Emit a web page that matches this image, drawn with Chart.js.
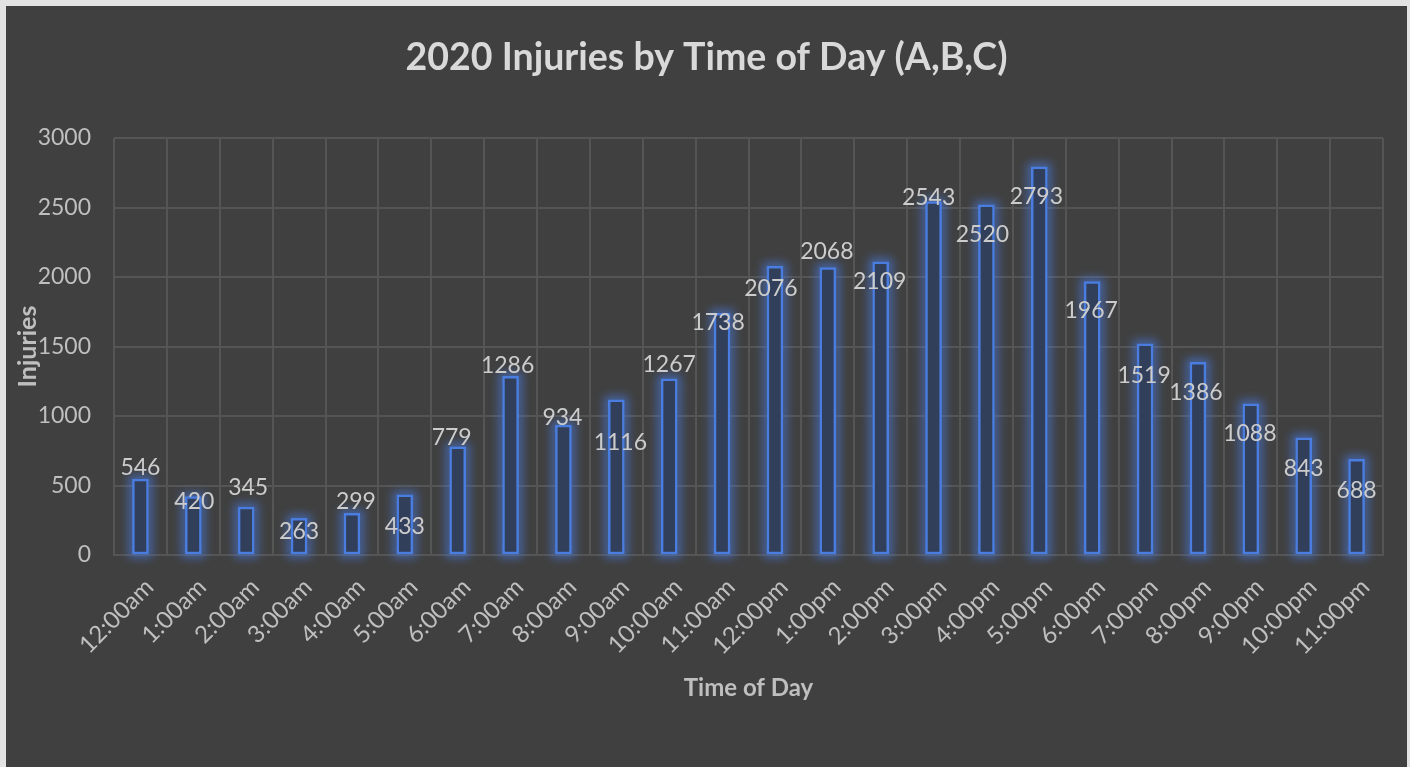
<!DOCTYPE html>
<html>
<head>
<meta charset="utf-8">
<script src="https://cdn.jsdelivr.net/npm/chart.js@4.4.1/dist/chart.umd.min.js"></script>
<style>
  html, body { margin: 0; padding: 0; background: #e3e3e3; width: 1410px; height: 767px; overflow: hidden; }
  #frame { position: absolute; left: 6px; top: 6px; width: 1401px; height: 761px; background: #404040; }
  canvas { display: block; }
</style>
</head>
<body>
<div id="frame"><canvas id="chart" width="1401" height="761"></canvas></div>
<script>
// Hour-of-day categories and injury counts for 2020
const hours = ['12:00am','1:00am','2:00am','3:00am','4:00am','5:00am','6:00am','7:00am','8:00am','9:00am','10:00am','11:00am',
               '12:00pm','1:00pm','2:00pm','3:00pm','4:00pm','5:00pm','6:00pm','7:00pm','8:00pm','9:00pm','10:00pm','11:00pm'];
const injuries = [546, 420, 345, 263, 299, 433, 779, 1286, 934, 1116, 1267, 1738,
                  2076, 2068, 2109, 2543, 2520, 2793, 1967, 1519, 1386, 1088, 843, 688];
const yTicks = [0, 500, 1000, 1500, 2000, 2500, 3000];

// Value-label placement relative to each bar top (px): [dx, dy]
const labelShift = [[0,-12],[1,5],[2,-19],[0,13],[4,-12],[0,32],[-6,-9],[-3,-11],[-1,-8],[4,43],[0,-14],[-4,9],
                    [-4,22],[-1,-16],[-1,20],[-5,-4],[-4,30],[-3,30],[-1,29],[-1,32],[-2,30],[-1,30],[0,31],[0,31]];

const FONT = 'Lato, "Open Sans", sans-serif';

// Soft blue halo behind each bar
const barGlow = {
  id: 'barGlow',
  beforeDatasetsDraw(chart) {
    const ctx = chart.ctx;
    const meta = chart.getDatasetMeta(0);
    ctx.save();
    ctx.filter = 'blur(5px)';
    ctx.strokeStyle = 'rgba(72,124,230,0.7)';
    ctx.lineWidth = 7;
    meta.data.forEach(el => {
      const w = el.width;
      ctx.strokeRect(el.x - w / 2, el.y, w, el.base - el.y);
    });
    ctx.restore();
  }
};

// Value labels over the bars
const valueLabels = {
  id: 'valueLabels',
  afterDatasetsDraw(chart) {
    const ctx = chart.ctx;
    const meta = chart.getDatasetMeta(0);
    ctx.save();
    ctx.font = '23px ' + FONT;
    ctx.fillStyle = '#cccccc';
    ctx.textAlign = 'center';
    ctx.textBaseline = 'middle';
    meta.data.forEach((el, i) => {
      const s = labelShift[i];
      ctx.fillText(String(injuries[i]), el.x + s[0], el.y + s[1]);
    });
    ctx.restore();
  }
};

new Chart(document.getElementById('chart'), {
  type: 'bar',
  data: {
    labels: hours,
    datasets: [{
      label: 'Injuries',
      data: injuries,
      backgroundColor: '#323f5b',
      borderColor: '#4a7de0',
      borderWidth: 2.5,
      borderSkipped: false,
      barThickness: 16
    }]
  },
  options: {
    responsive: false,
    animation: false,
    devicePixelRatio: 1,
    layout: { padding: 0 },
    plugins: {
      legend: { display: false },
      tooltip: { enabled: false },
      title: {
        display: true,
        text: '2020 Injuries by Time of Day (A,B,C)',
        color: '#d9d9d9',
        font: { family: FONT, size: 37.5, weight: 'bold', lineHeight: 1.2 },
        padding: { top: 29, bottom: 58 }
      }
    },
    scales: {
      x: {
        grid: { color: '#555555', lineWidth: 2, drawTicks: false, offset: true },
        border: { color: '#555555', width: 2 },
        ticks: {
          color: '#bfbfbf',
          font: { family: FONT, size: 24 },
          minRotation: 45, maxRotation: 45,
          labelOffset: 9,
          padding: 18,
          autoSkip: false
        },
        title: {
          display: true,
          text: 'Time of Day',
          color: '#bfbfbf',
          font: { family: FONT, size: 24, weight: 'bold', lineHeight: 1.2 },
          padding: { top: 0, bottom: 64 }
        },
        afterFit(scale) { scale.height = 212; }
      },
      y: {
        min: 0, max: 3000,
        afterBuildTicks(scale) { scale.ticks = yTicks.map(v => ({ value: v })); },
        grid: { color: '#555555', lineWidth: 2, drawTicks: false },
        border: { display: false },
        ticks: {
          color: '#bfbfbf',
          font: { family: FONT, size: 23 },
          padding: 23,
          callback: v => String(v)
        },
        title: {
          display: true,
          text: 'Injuries',
          color: '#bfbfbf',
          font: { family: FONT, size: 25, weight: 'bold', lineHeight: 1.2 },
          padding: { top: 7, bottom: 0 }
        },
        afterFit(scale) { scale.width = 108; }
      },
      // empty right-hand margin beside the plot
      yRight: {
        position: 'right',
        display: true,
        grid: { display: false, drawTicks: false },
        border: { display: false },
        ticks: { display: false },
        afterFit(scale) { scale.width = 24; }
      }
    }
  },
  plugins: [barGlow, valueLabels]
});
</script>
</body>
</html>
